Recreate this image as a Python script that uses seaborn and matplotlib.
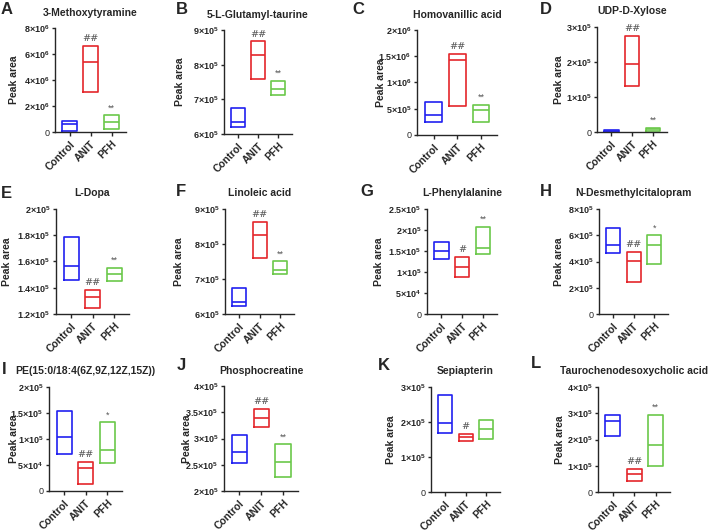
import numpy as np
import pandas as pd
import seaborn as sns
import matplotlib.pyplot as plt

sns.set_style("ticks")
plt.rcParams['font.family'] = ['Liberation Sans', 'DejaVu Sans']
plt.rcParams['mathtext.fontset'] = 'custom'
plt.rcParams['mathtext.rm'] = 'Liberation Sans'
plt.rcParams['mathtext.bf'] = 'Liberation Sans:bold'

groups = ['Control', 'ANIT', 'PFH']
colors = ['#2020F0', '#E4262B', '#6BC84A']

# min / median / max per group (Control, ANIT, PFH)
methoxytyramine = [[0.10e6, 0.64e6, 0.82e6], [3.08e6, 5.38e6, 6.60e6], [0.23e6, 0.79e6, 1.27e6]]
glutamyl_taurine = [[6.20e5, 6.35e5, 6.76e5], [7.58e5, 8.27e5, 8.67e5], [7.13e5, 7.29e5, 7.54e5]]
homovanillic = [[2.40e5, 3.75e5, 6.35e5], [5.60e5, 1.43e6, 1.55e6], [2.50e5, 4.70e5, 5.80e5]]
udp_xylose = [[1.0e3, 3.0e3, 4.5e3], [1.31e5, 1.94e5, 2.75e5], [3.0e3, 9.0e3, 1.2e4]]
l_dopa = [[1.462e5, 1.566e5, 1.784e5], [1.243e5, 1.330e5, 1.385e5], [1.449e5, 1.505e5, 1.553e5]]
linoleic = [[6.22e5, 6.35e5, 6.75e5], [7.59e5, 8.25e5, 8.63e5], [7.14e5, 7.27e5, 7.51e5]]
phenylalanine = [[1.31e5, 1.49e5, 1.72e5], [0.87e5, 1.12e5, 1.365e5], [1.43e5, 1.56e5, 2.08e5]]
desmethylcitalopram = [[4.65e5, 5.23e5, 6.58e5], [2.41e5, 4.04e5, 4.72e5], [3.81e5, 5.28e5, 5.99e5]]
pe_lipid = [[0.713e5, 1.045e5, 1.535e5], [0.134e5, 0.44e5, 0.56e5], [0.53e5, 0.79e5, 1.325e5]]
phosphocreatine = [[2.525e5, 2.74e5, 3.07e5], [3.22e5, 3.39e5, 3.56e5], [2.27e5, 2.56e5, 2.89e5]]
sepiapterin = [[1.69e5, 1.96e5, 2.78e5], [1.46e5, 1.56e5, 1.66e5], [1.52e5, 1.81e5, 2.06e5]]
taurocheno = [[2.12e5, 2.70e5, 2.93e5], [0.42e5, 0.70e5, 0.89e5], [0.98e5, 1.80e5, 2.95e5]]

titles = ['3-Methoxytyramine', '5-L-Glutamyl-taurine', 'Homovanillic acid', 'UDP-D-Xylose',
          'L-Dopa', 'Linoleic acid', 'L-Phenylalanine', 'N-Desmethylcitalopram',
          'PE(15:0/18:4(6Z,9Z,12Z,15Z))', 'Phosphocreatine', 'Sepiapterin',
          'Taurochenodesoxycholic acid']
letters = list('ABCDEFGHIJKL')
datasets = [methoxytyramine, glutamyl_taurine, homovanillic, udp_xylose, l_dopa, linoleic,
            phenylalanine, desmethylcitalopram, pe_lipid, phosphocreatine, sepiapterin, taurocheno]

# y ticks per panel
yticks = [[0, 2e6, 4e6, 6e6, 8e6], [6e5, 7e5, 8e5, 9e5], [0, 5e5, 1e6, 1.5e6, 2e6],
          [0, 1e5, 2e5, 3e5], [1.2e5, 1.4e5, 1.6e5, 1.8e5, 2e5], [6e5, 7e5, 8e5, 9e5],
          [0, 5e4, 1e5, 1.5e5, 2e5, 2.5e5], [0, 2e5, 4e5, 6e5, 8e5],
          [0, 5e4, 1e5, 1.5e5, 2e5], [2e5, 2.5e5, 3e5, 3.5e5, 4e5], [0, 1e5, 2e5, 3e5],
          [0, 1e5, 2e5, 3e5, 4e5]]

# significance marks (ANIT vs Control, PFH vs ANIT)
sig_anit = ['##', '##', '##', '##', '##', '##', '#', '##', '##', '##', '#', '##']
sig_pfh = ['**', '**', '**', '**', '**', '**', '**', '*', '*', '**', '', '**']

# axes boxes in pixels: left, top, right, bottom
W, H = 708, 531
rects = [(55, 28, 126, 132), (224, 30, 292, 134), (417, 30, 497, 135), (597, 27, 667, 132),
         (56, 209, 129, 314), (225, 209, 294, 314), (427, 209, 497, 314), (599, 209, 668, 314),
         (49, 387, 122, 491), (224, 386, 298, 491), (431, 387, 500, 492), (598, 387, 670, 492)]
label_off = [36, 39, 31, 33, 44, 41, 43, 35, 30, 32, 35, 33]
letter_pos = [(1, 9), (176, 9), (352, 10), (540, 9), (1, 193), (176, 191), (360, 191), (540, 191),
              (2, 370), (177, 366), (378, 366), (531, 364)]


def fmt(v):
    if v == 0:
        return '0'
    e = int(np.floor(np.log10(v) + 1e-9))
    m = v / 10 ** e
    return r'$\mathbf{%g{\times}10^{%d}}$' % (round(m, 2), e)


fig = plt.figure(figsize=(7.08, 5.31), dpi=100)

for i, d in enumerate(datasets):
    l, t, r, b = rects[i]
    ax = fig.add_axes([l / W, 1 - b / H, (r - l) / W, (b - t) / H])
    rows = []
    for g, (lo, med, hi) in zip(groups, d):
        for v in [lo, lo, med, hi, hi]:
            rows.append({'group': g, 'value': v})
    df = pd.DataFrame(rows)
    sns.boxplot(data=df, x='group', y='value', hue='group', palette=colors, order=groups,
                hue_order=groups, fill=False, whis=0, showcaps=False, showfliers=False,
                width=0.7, linewidth=1.2, legend=False, ax=ax)
    ax.set_xlim(-0.7, 2.68)
    yt = yticks[i]
    ax.set_ylim(yt[0], yt[-1])
    ax.set_yticks(yt)
    ax.set_yticklabels([fmt(v) for v in yt])
    ax.set_xticks(range(3))
    ax.set_xticklabels(groups, rotation=45, ha='right', rotation_mode='anchor',
                       fontsize=7.5, fontweight='bold')
    ax.tick_params(axis='y', labelsize=6.5, length=2.5, width=1, pad=1.5)
    ax.tick_params(axis='x', length=3, width=1, pad=2)
    for s in ['top', 'right']:
        ax.spines[s].set_visible(False)
    for s in ['left', 'bottom']:
        ax.spines[s].set_linewidth(1)
    ax.set_xlabel('')
    ax.set_ylabel('Peak area', fontsize=7.5, fontweight='bold')
    ax.yaxis.set_label_coords(-label_off[i] / (r - l), 0.5)
    ax.set_title(titles[i], fontsize=7.5, fontweight='bold', pad=9)
    if sig_anit[i]:
        ax.annotate(sig_anit[i], (1, d[1][2]), xytext=(0, 2), textcoords='offset points',
                    ha='center', va='bottom', fontsize=7, color='#555555', family='DejaVu Serif')
    if sig_pfh[i]:
        ax.annotate(sig_pfh[i], (2, d[2][2]), xytext=(0, 2), textcoords='offset points',
                    ha='center', va='bottom', fontsize=6.5, color='#555555')
    lx, ly = letter_pos[i]
    fig.text(lx / W, 1 - ly / H, letters[i], fontsize=12, fontweight='bold',
             ha='left', va='center')

fig.savefig('out.png', dpi=100)
